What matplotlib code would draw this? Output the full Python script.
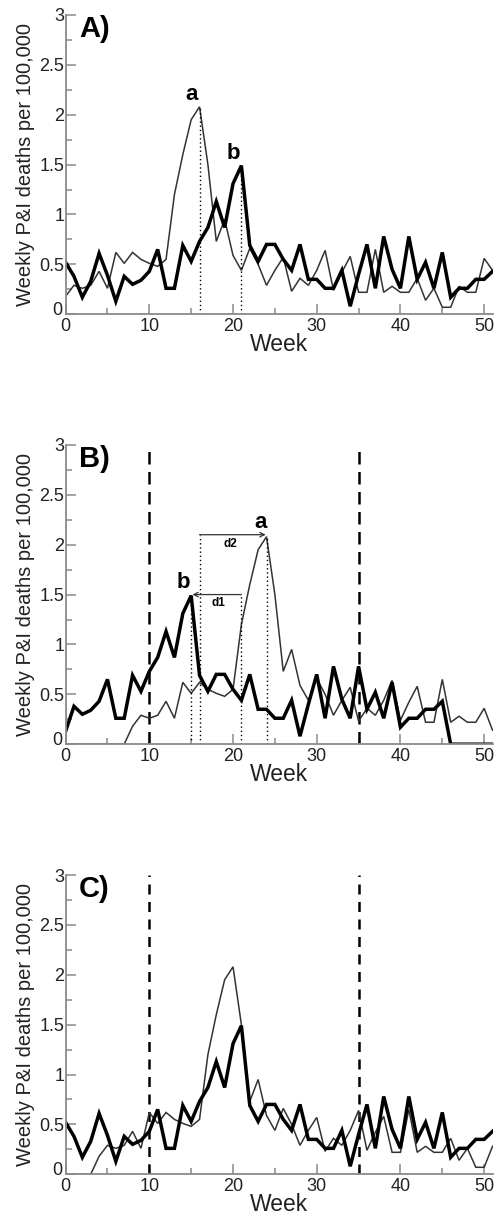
import matplotlib
matplotlib.use("Agg")
import matplotlib.pyplot as plt
from matplotlib.ticker import MultipleLocator
from matplotlib.transforms import ScaledTranslation

plt.rcParams['font.family'] = ['Liberation Sans', 'DejaVu Sans']

weeks = list(range(52))

# Panel A
a_thin = [0.18, 0.29, 0.26, 0.29, 0.43, 0.26, 0.62, 0.51, 0.62, 0.55, 0.51, 0.48, 0.55, 1.20, 1.60,
          1.95, 2.08, 1.50, 0.73, 0.95, 0.59, 0.44, 0.66, 0.50, 0.29, 0.44, 0.57, 0.23, 0.36, 0.29,
          0.44, 0.64, 0.24, 0.42, 0.58, 0.22, 0.22, 0.65, 0.22, 0.28, 0.22, 0.22, 0.36, 0.14, 0.26,
          0.07, 0.07, 0.28, 0.22, 0.22, 0.56, 0.44]
a_thick = [0.52, 0.38, 0.17, 0.33, 0.61, 0.39, 0.13, 0.38, 0.30, 0.34, 0.43, 0.65, 0.26, 0.26, 0.69,
           0.53, 0.73, 0.87, 1.13, 0.87, 1.31, 1.49, 0.69, 0.53, 0.70, 0.70, 0.55, 0.44, 0.70, 0.35,
           0.35, 0.26, 0.26, 0.44, 0.08, 0.40, 0.70, 0.26, 0.78, 0.45, 0.26, 0.78, 0.35, 0.52, 0.26,
           0.62, 0.17, 0.26, 0.26, 0.35, 0.35, 0.43]

# Panel B
b_thin = [0, 0, 0, 0, 0, 0, 0, 0, 0.18, 0.29, 0.26, 0.29, 0.43, 0.26, 0.62, 0.51, 0.62, 0.55, 0.51,
          0.48, 0.55, 1.20, 1.60, 1.95, 2.08, 1.50, 0.73, 0.95, 0.59, 0.44, 0.66, 0.50, 0.29, 0.44,
          0.57, 0.23, 0.36, 0.29, 0.44, 0.64, 0.24, 0.42, 0.58, 0.22, 0.22, 0.65, 0.22, 0.28, 0.22,
          0.22, 0.36, 0.14]
b_thick = [0.13, 0.38, 0.30, 0.34, 0.43, 0.65, 0.26, 0.26, 0.69, 0.53, 0.73, 0.87, 1.13, 0.87, 1.31,
           1.49, 0.69, 0.53, 0.70, 0.70, 0.55, 0.44, 0.70, 0.35, 0.35, 0.26, 0.26, 0.44, 0.08, 0.40,
           0.70, 0.26, 0.78, 0.45, 0.26, 0.78, 0.35, 0.52, 0.26, 0.62, 0.17, 0.26, 0.26, 0.35, 0.35,
           0.43, 0, 0, 0, 0, 0, 0]

# Panel C
c_thin = [0, 0, 0, 0, 0.18, 0.29, 0.26, 0.29, 0.43, 0.26, 0.62, 0.51, 0.62, 0.55, 0.51, 0.48, 0.55,
          1.20, 1.60, 1.95, 2.08, 1.50, 0.73, 0.95, 0.59, 0.44, 0.66, 0.50, 0.29, 0.44, 0.57, 0.23,
          0.36, 0.29, 0.44, 0.64, 0.24, 0.42, 0.58, 0.22, 0.22, 0.65, 0.22, 0.28, 0.22, 0.22, 0.36,
          0.14, 0.26, 0.07, 0.07, 0.28]
c_thick = list(a_thick)

panel_labels = ["A)", "B)", "C)"]
window = [10, 35]
xticks = [0, 10, 20, 30, 40, 50]
yticks = [0, 0.5, 1, 1.5, 2, 2.5, 3]
ytick_labels = ["0", "0.5", "1", "1.5", "2", "2.5", "3"]

fig = plt.figure(figsize=(4.97, 12.18), dpi=100)
bottoms = [0.742, 0.389, 0.0359]
spine_col = "#8a8a8a"

axes = []
for i, bot in enumerate(bottoms):
    ax = fig.add_axes([0.132, bot, 0.859, 0.2457])
    ax.set_xlim(0, 51)
    ax.set_ylim(0, 3)
    for s in ["top", "right"]:
        ax.spines[s].set_visible(False)
    for s in ["left", "bottom"]:
        ax.spines[s].set_color(spine_col)
        ax.spines[s].set_linewidth(1.3)
    ax.set_xticks(xticks)
    ax.set_yticks(yticks)
    ax.set_yticklabels(ytick_labels)
    ax.xaxis.set_minor_locator(MultipleLocator(5))
    ax.yaxis.set_minor_locator(MultipleLocator(0.25))
    ax.tick_params(which="both", direction="in", color=spine_col, width=1.1, labelsize=13,
                   labelcolor="#222222")
    ax.tick_params(which="major", length=7)
    ax.tick_params(axis="y", which="major", pad=1.0)
    ax.tick_params(axis="x", which="major", pad=2.5)
    ax.tick_params(which="minor", length=4)
    ax.set_xlabel("Week", fontsize=16.5, labelpad=-1.5, color="#222222")
    ax.set_ylabel("Weekly P&I deaths per 100,000", fontsize=14.5, labelpad=3, color="#222222")
    ax.text(1.6, 2.86, panel_labels[i], fontsize=21, fontweight="bold", va="center", ha="left")
    # nudge the y "0" label up and left, as in the original
    lab0 = ax.get_yticklabels()[0]
    lab0.set_transform(lab0.get_transform() + ScaledTranslation(-1 / 72, 4 / 72, fig.dpi_scale_trans))
    axes.append(ax)

thin_kw = dict(color="#333333", lw=1.1, solid_joinstyle="miter")
thick_kw = dict(color="black", lw=2.5, solid_joinstyle="miter")
dot_kw = dict(color="black", lw=1.0, linestyle=(0, (1, 2)))

# Panel A
ax = axes[0]
ax.plot(weeks, a_thin, **thin_kw)
ax.plot(weeks, a_thick, **thick_kw)
pa = a_thin.index(max(a_thin))
pb = a_thick.index(max(a_thick))
ax.plot([weeks[pa], weeks[pa]], [0, a_thin[pa]], **dot_kw)
ax.plot([weeks[pb], weeks[pb]], [0, a_thick[pb]], **dot_kw)
ax.text(weeks[pa] - 0.95, a_thin[pa] + 0.12, "a", fontsize=16, fontweight="bold", ha="center", va="center")
ax.text(weeks[pb] - 1.0, a_thick[pb] + 0.12, "b", fontsize=16, fontweight="bold", ha="center", va="center")

# Panel B
ax = axes[1]
for w in window:
    ax.axvline(w, color="black", lw=1.8, linestyle=(0, (5, 3)))
ax.plot(weeks, b_thin, **thin_kw)
ax.plot(weeks, b_thick, **thick_kw)
qa = b_thin.index(max(b_thin))
qb = b_thick.index(max(b_thick))
ax.plot([weeks[qa], weeks[qa]], [0, b_thin[qa]], **dot_kw)
ax.plot([weeks[qb], weeks[qb]], [0, b_thick[qb]], **dot_kw)
ax.plot([weeks[pa], weeks[pa]], [0, 2.1], **dot_kw)
ax.plot([weeks[pb], weeks[pb]], [0, 1.5], **dot_kw)
ax.annotate("", xy=(weeks[qa] - 0.1, 2.1), xytext=(weeks[pa], 2.1),
            arrowprops=dict(arrowstyle="->", color="#333333", lw=0.9, shrinkA=0, shrinkB=0,
                            mutation_scale=8))
ax.annotate("", xy=(weeks[qb] + 0.15, 1.5), xytext=(weeks[pb], 1.5),
            arrowprops=dict(arrowstyle="->", color="#333333", lw=0.9, shrinkA=0, shrinkB=0,
                            mutation_scale=8))
ax.text(19.7, 2.01, "d2", fontsize=8.5, fontweight="bold", ha="center", va="center")
ax.text(18.2, 1.42, "d1", fontsize=8.5, fontweight="bold", ha="center", va="center")
ax.text(weeks[qa] - 0.7, b_thin[qa] + 0.14, "a", fontsize=16, fontweight="bold", ha="center", va="center")
ax.text(weeks[qb] - 0.9, b_thick[qb] + 0.13, "b", fontsize=16, fontweight="bold", ha="center", va="center")

# Panel C
ax = axes[2]
for w in window:
    ax.axvline(w, color="black", lw=1.8, linestyle=(0, (4, 3)))
ax.plot(weeks, c_thin, **thin_kw)
ax.plot(weeks, c_thick, **thick_kw)

fig.savefig("out.png", dpi=100)
